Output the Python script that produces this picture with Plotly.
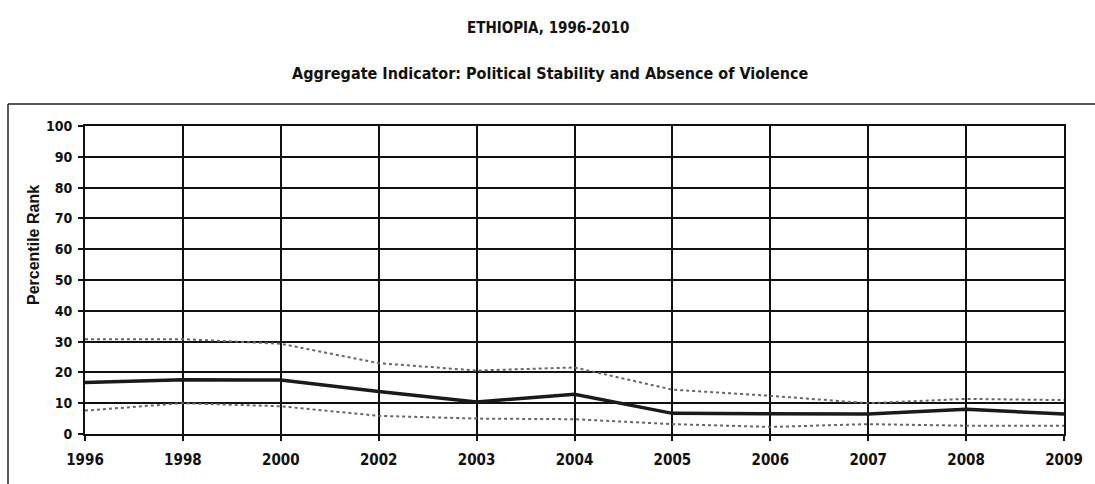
import plotly.graph_objects as go

years = ["1996", "1998", "2000", "2002", "2003", "2004", "2005", "2006", "2007", "2008", "2009"]
percentile_rank = [16.7, 17.6, 17.5, 13.8, 10.4, 12.9, 6.7, 6.7, 6.5, 8.0, 6.5]
upper_bound = [30.8, 30.8, 29.3, 23.0, 20.6, 21.6, 14.4, 12.4, 10.0, 11.4, 11.0]
lower_bound = [7.6, 10.0, 9.0, 5.9, 5.0, 4.8, 3.2, 2.3, 3.2, 2.7, 2.7]
y_ticks = [0, 10, 20, 30, 40, 50, 60, 70, 80, 90, 100]

FONT = "DejaVu Sans Condensed, Liberation Sans Narrow, Arial Narrow, Liberation Sans, Arial, sans-serif"

W, H = 1095, 484
L, R, T, B = 85, 1064, 126, 434

fig = go.Figure()
fig.add_trace(go.Scatter(x=years, y=upper_bound, mode="lines",
                         line=dict(color="#666666", width=2, dash="dot"), name="Upper"))
fig.add_trace(go.Scatter(x=years, y=lower_bound, mode="lines",
                         line=dict(color="#666666", width=2, dash="dot"), name="Lower"))
fig.add_trace(go.Scatter(x=years, y=percentile_rank, mode="lines",
                         line=dict(color="#1a1a1a", width=3.5), name="Percentile Rank"))

axis_common = dict(showgrid=True, gridcolor="#111111", gridwidth=2,
                   showline=True, linecolor="#111111", linewidth=2, mirror=True,
                   ticks="outside", ticklen=5, tickwidth=2, tickcolor="#111111",
                   zeroline=False)

fig.update_layout(
    width=W, height=H,
    margin=dict(l=L, r=W - R, t=T, b=H - B, autoexpand=False),
    paper_bgcolor="white", plot_bgcolor="white",
    showlegend=False,
    font=dict(family=FONT, color="#111111"),
    xaxis=dict(type="category", range=[0, 10], ticklabelstandoff=6,
               tickfont=dict(family=FONT, size=15, weight="bold"), **axis_common),
    yaxis=dict(range=[0, 100], tickvals=y_ticks, ticklabelstandoff=3,
               tickfont=dict(family=FONT, size=14, weight="bold"), **axis_common),
)

pw = R - L
ph = B - T
def px_x(x):
    return (x - L) / pw
def px_y(y):
    return (B - y) / ph

fig.add_annotation(text="ETHIOPIA, 1996-2010", x=px_x(548), y=px_y(28), xref="paper", yref="paper",
                   xanchor="center", yanchor="middle", showarrow=False,
                   font=dict(family=FONT, size=15, weight="bold"))
fig.add_annotation(text="Aggregate Indicator: Political Stability and Absence of Violence",
                   x=px_x(550), y=px_y(73), xref="paper", yref="paper",
                   xanchor="center", yanchor="middle", showarrow=False,
                   font=dict(family=FONT, size=16, weight="bold"))
fig.add_annotation(text="Percentile Rank", x=px_x(33), y=px_y(245), xref="paper", yref="paper",
                   xanchor="center", yanchor="middle", showarrow=False, textangle=-90,
                   font=dict(family="Liberation Sans, Arial, sans-serif", size=16, weight="bold"))

# outer frame (top and left edges visible in the reference)
fig.add_shape(type="line", xref="paper", yref="paper",
              x0=px_x(8), x1=px_x(W), y0=px_y(104), y1=px_y(104),
              line=dict(color="#222222", width=1.5))
fig.add_shape(type="line", xref="paper", yref="paper",
              x0=px_x(8), x1=px_x(8), y0=px_y(104), y1=px_y(H),
              line=dict(color="#222222", width=1.5))

fig.write_html("out.html", config={"displayModeBar": False},
               post_script="document.body.style.margin='0';document.body.style.overflow='hidden';")
